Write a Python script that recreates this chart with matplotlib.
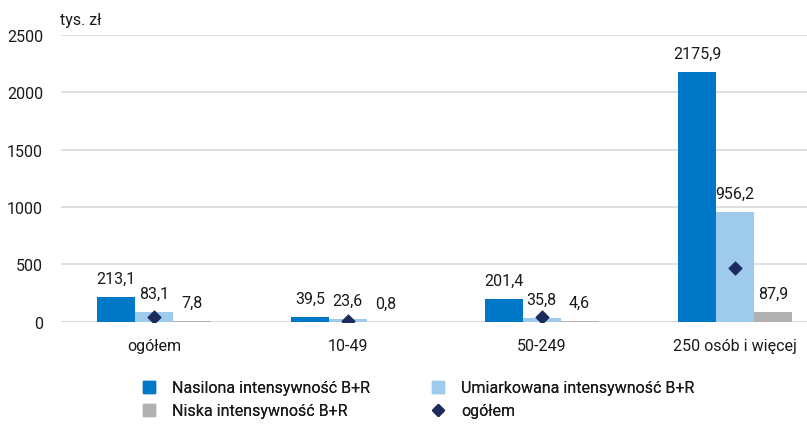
import matplotlib as mpl
import matplotlib.pyplot as plt
from matplotlib.patches import Patch
from matplotlib.lines import Line2D
import numpy as np

# Data
categories = ['ogółem', '10-49', '50-249', '250 osób i więcej']
nasilona = [213.1, 39.5, 201.4, 2175.9]
umiarkowana = [83.1, 23.6, 35.8, 956.2]
niska = [7.8, 0.8, 4.6, 87.9]
ogolem = [44, 3, 38, 468]
series_labels = ['Nasilona intensywność B+R', 'Umiarkowana intensywność B+R',
                 'Niska intensywność B+R', 'ogółem']

c_blue = '#0078C8'
c_light = '#9ECBEB'
c_gray = '#B1B1B1'
c_diam = '#1C2A5C'
c_text = '#1A1A1A'

mpl.rcParams['font.family'] = ['Roboto', 'DejaVu Sans']
mpl.rcParams['font.size'] = 11.5
mpl.rcParams['text.color'] = c_text

fig = plt.figure(figsize=(8.07, 4.31), dpi=100)
ax = fig.add_axes([0.0756, 0.2513, 0.9244, 0.6652])

x = np.arange(len(categories))
w = 0.196

ax.bar(x - w, nasilona, w, color=c_blue, zorder=2)
ax.bar(x, umiarkowana, w, color=c_light, zorder=2)
ax.bar(x + w, niska, w, color=c_gray, zorder=2)
ax.scatter(x, ogolem, marker='D', s=42, color=c_diam, zorder=3)

def fmt(v):
    return f'{v:.1f}'.replace('.', ',')

for off, vals in [(-w, nasilona), (0, umiarkowana), (w, niska)]:
    for xi, v in zip(x, vals):
        ax.annotate(fmt(v), (xi + off, v), xytext=(0, 8), textcoords='offset points',
                    ha='center', va='bottom', fontsize=11.5)

ax.set_ylim(0, 2500)
ax.set_yticks(np.arange(0, 2501, 500))
ax.set_xlim(-0.48, 3.37)
ax.set_xticks(x)
ax.set_xticklabels(categories)
ax.tick_params(axis='both', length=0, labelsize=11.5, labelcolor=c_text)
ax.tick_params(axis='x', pad=12)
ax.tick_params(axis='y', pad=13)
ax.grid(axis='y', color='#D9D9D9', linewidth=1.2, zorder=0)
for s in ax.spines.values():
    s.set_visible(False)
ax.axhline(0, color='#D9D9D9', linewidth=1.2, zorder=1)

fig.text(0.0744, 0.953, 'tys. zł', fontsize=11.5, ha='left', va='center')

# Legend, two columns placed by hand
col1 = [Patch(color=c_blue, label=series_labels[0]),
        Patch(color=c_gray, label=series_labels[2])]
col2 = [Patch(color=c_light, label=series_labels[1]),
        Line2D([], [], marker='D', linestyle='none', color=c_diam, markersize=6,
               label=series_labels[3])]
for handles, xpos in [(col1, 0.177), (col2, 0.535)]:
    leg = fig.legend(handles=handles, loc='upper left', bbox_to_anchor=(xpos, 0.115),
                     frameon=False, fontsize=11.5, handlelength=0.78, handleheight=0.78,
                     handletextpad=1.05, labelspacing=0.5, borderpad=0,
                     borderaxespad=0)
    fig.add_artist(leg)

fig.savefig('out.png', dpi=100)
